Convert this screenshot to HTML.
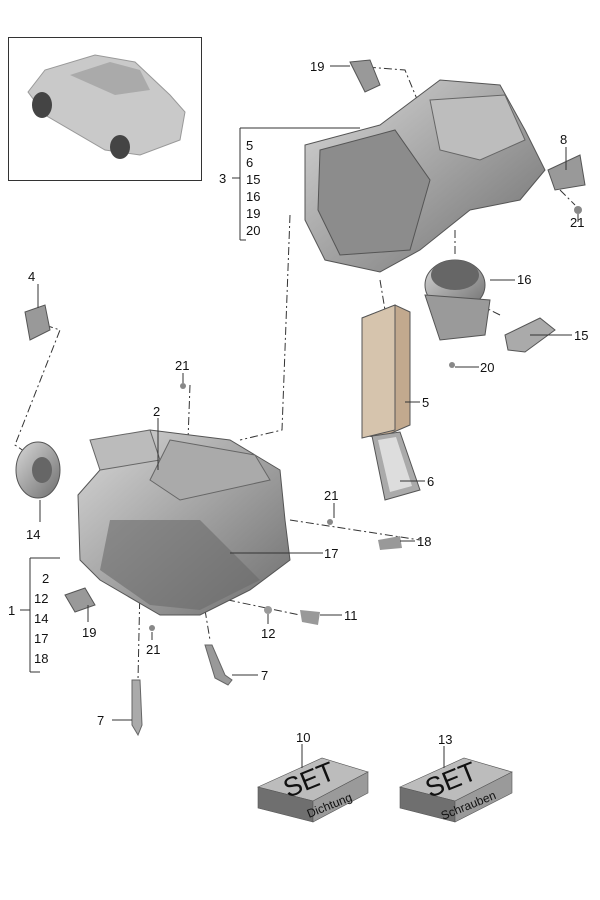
<!DOCTYPE html>
<html><head><style>
body{margin:0;background:#fff;width:600px;height:900px;overflow:hidden}
svg{display:block}
text{font-family:"Liberation Sans",sans-serif;font-size:13px;fill:#111}
</style></head><body>
<svg width="600" height="900" viewBox="0 0 600 900">
<defs>
<linearGradient id="g1" x1="0" y1="0" x2="1" y2="1"><stop offset="0" stop-color="#d8d8d8"/><stop offset="1" stop-color="#6e6e6e"/></linearGradient>
<linearGradient id="g2" x1="0" y1="0" x2="0" y2="1"><stop offset="0" stop-color="#c8c8c8"/><stop offset="1" stop-color="#7a7a7a"/></linearGradient>
</defs>
<!-- car inset -->
<rect x="8.5" y="37.5" width="193" height="143" fill="none" stroke="#333"/>
<path d="M28 92 L45 70 L95 55 L135 62 L170 95 L185 112 L180 140 L140 155 L105 150 L45 115 Z" fill="#c9c9c9" stroke="#999"/>
<path d="M70 75 L110 62 L140 70 L150 90 L115 95 Z" fill="#aaa"/>
<ellipse cx="42" cy="105" rx="10" ry="13" fill="#444"/>
<ellipse cx="120" cy="147" rx="10" ry="12" fill="#444"/>
<!-- dashed leaders -->
<g stroke="#333" stroke-width="1" fill="none" stroke-dasharray="8,3,2,3">
<path d="M30 320 L60 330 L15 445 L40 462"/>
<path d="M290 215 L282 430 L240 440"/>
<path d="M352 66 L405 70 L440 155"/>
<path d="M380 280 L385 310"/>
<path d="M455 230 L455 255"/>
<path d="M190 385 L188 440"/>
<path d="M290 520 L420 540"/>
<path d="M180 590 L300 615"/>
<path d="M140 585 L138 680"/>
<path d="M205 610 L210 640"/>
<path d="M500 315 L470 300"/>
<path d="M560 190 L575 205"/>
</g>
<!-- upper unit -->
<path d="M305 145 L380 125 L440 80 L500 85 L525 130 L545 170 L520 200 L470 210 L420 250 L380 272 L325 260 L305 220 Z" fill="url(#g1)" stroke="#555"/>
<path d="M320 150 L395 130 L430 180 L410 250 L340 255 L318 210 Z" fill="#8c8c8c" stroke="#555"/>
<path d="M430 100 L505 95 L525 140 L480 160 L440 150 Z" fill="#bdbdbd" stroke="#666"/>
<!-- bracket 8 -->
<path d="M548 170 L580 155 L585 185 L555 190 Z" fill="#999" stroke="#555"/>
<circle cx="578" cy="210" r="4" fill="#888"/>
<!-- 19 top -->
<path d="M350 62 L370 60 L380 85 L365 92 Z" fill="#999" stroke="#555"/>
<!-- blower 16 -->
<ellipse cx="455" cy="285" rx="30" ry="25" fill="url(#g1)" stroke="#555"/>
<path d="M425 295 L490 300 L485 335 L440 340 Z" fill="#9a9a9a" stroke="#555"/>
<ellipse cx="455" cy="275" rx="24" ry="15" fill="#666"/>
<!-- 15 -->
<path d="M505 335 L540 318 L555 330 L525 352 L508 350 Z" fill="#aaa" stroke="#555"/>
<circle cx="452" cy="365" r="3" fill="#888"/>
<!-- filter 5 -->
<path d="M362 318 L395 305 L410 312 L410 425 L380 438 L362 435 Z" fill="#c2a98e" stroke="#555"/>
<path d="M362 318 L395 305 L395 430 L362 438 Z" fill="#d6c4ad" stroke="#555"/>
<!-- 6 -->
<path d="M372 436 L400 432 L420 490 L385 500 Z" fill="#aaa" stroke="#555"/>
<path d="M378 440 L396 437 L412 486 L390 492 Z" fill="#ddd"/>
<!-- 4 -->
<path d="M25 312 L45 305 L50 330 L30 340 Z" fill="#999" stroke="#555"/>
<!-- 14 -->
<ellipse cx="38" cy="470" rx="22" ry="28" fill="url(#g1)" stroke="#555"/>
<ellipse cx="42" cy="470" rx="10" ry="13" fill="#666"/>
<!-- main unit -->
<path d="M78 495 L100 470 L95 445 L150 430 L230 440 L255 455 L280 470 L285 520 L290 560 L250 590 L200 615 L160 615 L100 580 L80 560 Z" fill="url(#g1)" stroke="#555"/>
<path d="M90 440 L150 430 L160 460 L100 470 Z" fill="#bbb" stroke="#666"/>
<path d="M170 440 L255 455 L270 480 L180 500 L150 480 Z" fill="#aaa" stroke="#666"/>
<path d="M110 520 L200 520 L260 580 L200 610 L150 605 L100 570 Z" fill="#6a6a6a" opacity=".6"/>
<path d="M65 595 L85 588 L95 605 L75 612 Z" fill="#999" stroke="#555"/>
<!-- small parts -->
<circle cx="183" cy="386" r="3" fill="#888"/>
<circle cx="330" cy="522" r="3" fill="#888"/>
<path d="M378 540 L400 536 L402 548 L380 550 Z" fill="#999"/>
<path d="M300 610 L320 612 L318 625 L302 622 Z" fill="#999"/>
<circle cx="268" cy="610" r="4" fill="#999"/>
<circle cx="152" cy="628" r="3" fill="#888"/>
<path d="M205 645 L212 645 L225 675 L232 680 L228 685 L215 678 Z" fill="#999" stroke="#666"/>
<path d="M132 680 L140 680 L142 725 L138 735 L132 725 Z" fill="#aaa" stroke="#666"/>
<!-- SET boxes -->
<g stroke="#555" stroke-width=".6">
<path d="M258 787 L322 758 L368 772 L313 801 Z" fill="#bcbcbc"/>
<path d="M258 787 L313 801 L313 822 L258 808 Z" fill="#6f6f6f"/>
<path d="M313 801 L368 772 L368 793 L313 822 Z" fill="#9a9a9a"/>
<path d="M400 787 L464 758 L512 772 L455 801 Z" fill="#bcbcbc"/>
<path d="M400 787 L455 801 L455 822 L400 808 Z" fill="#6f6f6f"/>
<path d="M455 801 L512 772 L512 793 L455 822 Z" fill="#9a9a9a"/>
</g>
<text x="288" y="798" transform="rotate(-22 288 798)" style="font-size:27px">SET</text>
<text x="309" y="818" transform="rotate(-22 309 818)" style="font-size:12px">Dichtung</text>
<text x="430" y="798" transform="rotate(-22 430 798)" style="font-size:27px">SET</text>
<text x="443" y="820" transform="rotate(-22 443 820)" style="font-size:12px">Schrauben</text>
<!-- leader lines -->
<g stroke="#333" stroke-width="1">
<line x1="302" y1="744" x2="302" y2="768"/>
<line x1="444" y1="746" x2="444" y2="768"/>
<line x1="240" y1="128" x2="240" y2="240"/><line x1="240" y1="128" x2="360" y2="128"/><line x1="232" y1="178" x2="240" y2="178"/><line x1="240" y1="240" x2="246" y2="240"/>
<line x1="30" y1="558" x2="30" y2="672"/><line x1="30" y1="558" x2="60" y2="558"/><line x1="30" y1="672" x2="40" y2="672"/><line x1="20" y1="610" x2="30" y2="610"/>
<line x1="330" y1="66" x2="350" y2="66"/>
<line x1="566" y1="147" x2="566" y2="170"/>
<line x1="578" y1="214" x2="578" y2="222"/>
<line x1="490" y1="280" x2="515" y2="280"/>
<line x1="530" y1="335" x2="572" y2="335"/>
<line x1="455" y1="367" x2="479" y2="367"/>
<line x1="405" y1="402" x2="420" y2="402"/>
<line x1="400" y1="481" x2="425" y2="481"/>
<line x1="38" y1="284" x2="38" y2="308"/>
<line x1="183" y1="373" x2="183" y2="383"/>
<line x1="158" y1="418" x2="158" y2="470"/>
<line x1="40" y1="500" x2="40" y2="522"/>
<line x1="334" y1="503" x2="334" y2="518"/>
<line x1="400" y1="541" x2="415" y2="541"/>
<line x1="230" y1="553" x2="323" y2="553"/>
<line x1="320" y1="615" x2="342" y2="615"/>
<line x1="268" y1="614" x2="268" y2="624"/>
<line x1="152" y1="632" x2="152" y2="640"/>
<line x1="88" y1="605" x2="88" y2="622"/>
<line x1="232" y1="675" x2="258" y2="675"/>
<line x1="112" y1="720" x2="132" y2="720"/>
</g>
<text x="310" y="71">19</text>
<text x="246" y="150">5</text><text x="246" y="167">6</text><text x="246" y="184">15</text><text x="246" y="201">16</text><text x="246" y="218">19</text><text x="246" y="235">20</text>
<text x="219" y="183">3</text>
<text x="560" y="144">8</text><text x="570" y="227">21</text>
<text x="517" y="284">16</text><text x="574" y="340">15</text><text x="480" y="372">20</text>
<text x="422" y="407">5</text><text x="427" y="486">6</text>
<text x="28" y="281">4</text><text x="175" y="370">21</text><text x="153" y="416">2</text>
<text x="26" y="539">14</text><text x="324" y="500">21</text><text x="417" y="546">18</text>
<text x="324" y="558">17</text><text x="344" y="620">11</text><text x="261" y="638">12</text>
<text x="146" y="654">21</text><text x="82" y="637">19</text><text x="261" y="680">7</text><text x="97" y="725">7</text>
<text x="8" y="615">1</text>
<text x="42" y="583">2</text><text x="34" y="603">12</text><text x="34" y="623">14</text><text x="34" y="643">17</text><text x="34" y="663">18</text>
<text x="296" y="742">10</text><text x="438" y="744">13</text>
</svg>
</body></html>
